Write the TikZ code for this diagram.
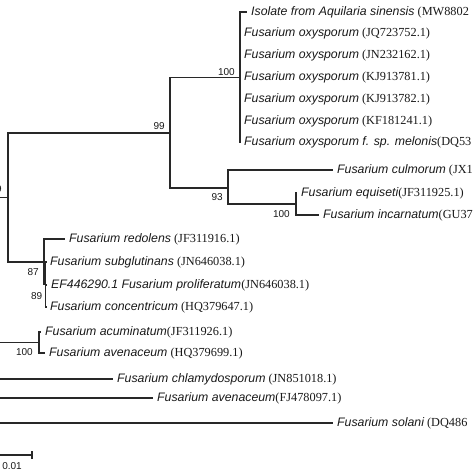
\documentclass[tikz,border=0pt]{standalone}
\usepackage{fontspec}
\setmainfont{Liberation Serif}
\setsansfont{Liberation Sans}
\usepackage{xcolor}
\usetikzlibrary{
    positioning,
    calc
}
\definecolor{TreeGrey}{RGB}{40,40,40}
\definecolor{InkBlack}{RGB}{25,25,25}
\tikzset{
  leaf/.style    = {anchor=west, inner xsep=4pt, inner ysep=1pt, text=InkBlack,
                    font=\fontsize{12.3}{14}\selectfont},
  boot/.style    = {inner sep=1pt, text=InkBlack,
                    font=\sffamily\fontsize{10}{12}\selectfont},
  br/.style      = {TreeGrey, line width=1.1pt}
}
\newcommand{\spc}[1]{{\sffamily\itshape #1}}

\begin{document}
\begin{tikzpicture}[x=1pt,y=-1pt]
\useasboundingbox (0,0) rectangle (474,474);
% internal nodes
\coordinate (n100a) at (240,77.4);
\coordinate (n99)   at (170,133);
\coordinate (n93)   at (228,188);
\coordinate (n100b) at (296,204);
\coordinate (nroot) at (8,197.5);
\coordinate (n87)   at (44,262);
\coordinate (n89)   at (45.5,284.5);
\coordinate (n100c) at (39,342.5);
\coordinate (o1) at (-30,197.5);
\coordinate (o2) at (-30,342.5);
\coordinate (o3) at (-30,379);
\coordinate (o4) at (-30,398);
\coordinate (o5) at (-30,423);
% leaves
\node[leaf] (iso) at (247,12) {\spc{Isolate from Aquilaria sinensis} (MW8802};
\foreach \acc [count=\i] in {JQ723752.1,JN232162.1,KJ913781.1,KJ913782.1,KF181241.1}
  \node[leaf] (oxy\i) at (240,{12+21.8*\i}) {\spc{Fusarium oxysporum} (\acc)};
\node[leaf] (melo) at (240,142.8) {\spc{Fusarium oxysporum f. sp. melonis}(DQ53};
\node[leaf] (culm) at (333,170) {\spc{Fusarium culmorum} (JX1};
\node[leaf] (equi) at (297,193) {\spc{Fusarium equiseti}(JF311925.1)};
\node[leaf] (inca) at (319,215) {\spc{Fusarium incarnatum}(GU37};
\node[leaf] (redo) at (65,239) {\spc{Fusarium redolens} (JF311916.1)};
\node[leaf] (subg) at (46,262) {\spc{Fusarium subglutinans} (JN646038.1)};
\node[leaf] (efpr) at (47,285) {\spc{EF446290.1 Fusarium proliferatum}(JN646038.1)};
\node[leaf] (conc) at (46,307) {\spc{Fusarium concentricum} (HQ379647.1)};
\node[leaf] (acum) at (41,332) {\spc{Fusarium acuminatum}(JF311926.1)};
\node[leaf] (avhq) at (45,353) {\spc{Fusarium avenaceum} (HQ379699.1)};
\node[leaf] (chla) at (113,379) {\spc{Fusarium chlamydosporum} (JN851018.1)};
\node[leaf] (avfj) at (153,398) {\spc{Fusarium avenaceum}(FJ478097.1)};
\node[leaf] (sola) at (333,423) {\spc{Fusarium solani} (DQ486};
% branches
\draw[br] (n100a) |- (iso.west);
\foreach \i in {1,...,5}
  \draw[br] (n100a) |- (oxy\i.west);
\draw[br] (n100a) |- (melo.west);
\draw[br] (n99) |- (n100a);
\draw[br] (n99) |- (n93);
\draw[br] (n93) |- (culm.west);
\draw[br] (n93) |- (n100b);
\draw[br] (n100b) |- (equi.west);
\draw[br] (n100b) |- (inca.west);
\draw[br] (o1) -- (nroot);
\draw[br] (nroot) |- (n99);
\draw[br] (nroot) |- (n87);
\draw[br] (n87) |- (redo.west);
\draw[br] (n87) |- (n89);
\draw[br] (n89) |- (subg.west);
\draw[br] (n89) |- (efpr.west);
\draw[br] (n89) |- (conc.west);
\draw[br] (o2) -- (n100c);
\draw[br] (n100c) |- (acum.west);
\draw[br] (n100c) |- (avhq.west);
\draw[br] (o3) -- (chla.west);
\draw[br] (o4) -- (avfj.west);
\draw[br] (o5) -- (sola.west);
% bootstrap values
\node[boot, above left=1pt and 4pt of n100a] (b1) {100};
\node[boot, above left=2pt and 4pt of n99] (b2) {99};
\node[boot, below left=4pt and 4pt of n93] (b3) {93};
\node[boot, below left=5pt and 5pt of n100b] (b4) {100};
\node[boot, above left=3.5pt and 5pt of nroot] (b5) {99};
\node[boot, below left=5pt and 4pt of n87] (b6) {87};
\node[boot, below left=6.5pt and 2pt of n89] (b7) {89};
\node[boot, below left=4.5pt and 5pt of n100c] (b8) {100};
% scale bar
\coordinate (sbl) at (-8,455);
\coordinate (sbr) at (32,455);
\draw[br] (sbl) -- (sbr);
\draw[br] ($(sbr)+(0,-4)$) -- ($(sbr)+(0,4)$);
\node[boot] (sbt) at (12,466) {0.01};
\end{tikzpicture}
\end{document}
